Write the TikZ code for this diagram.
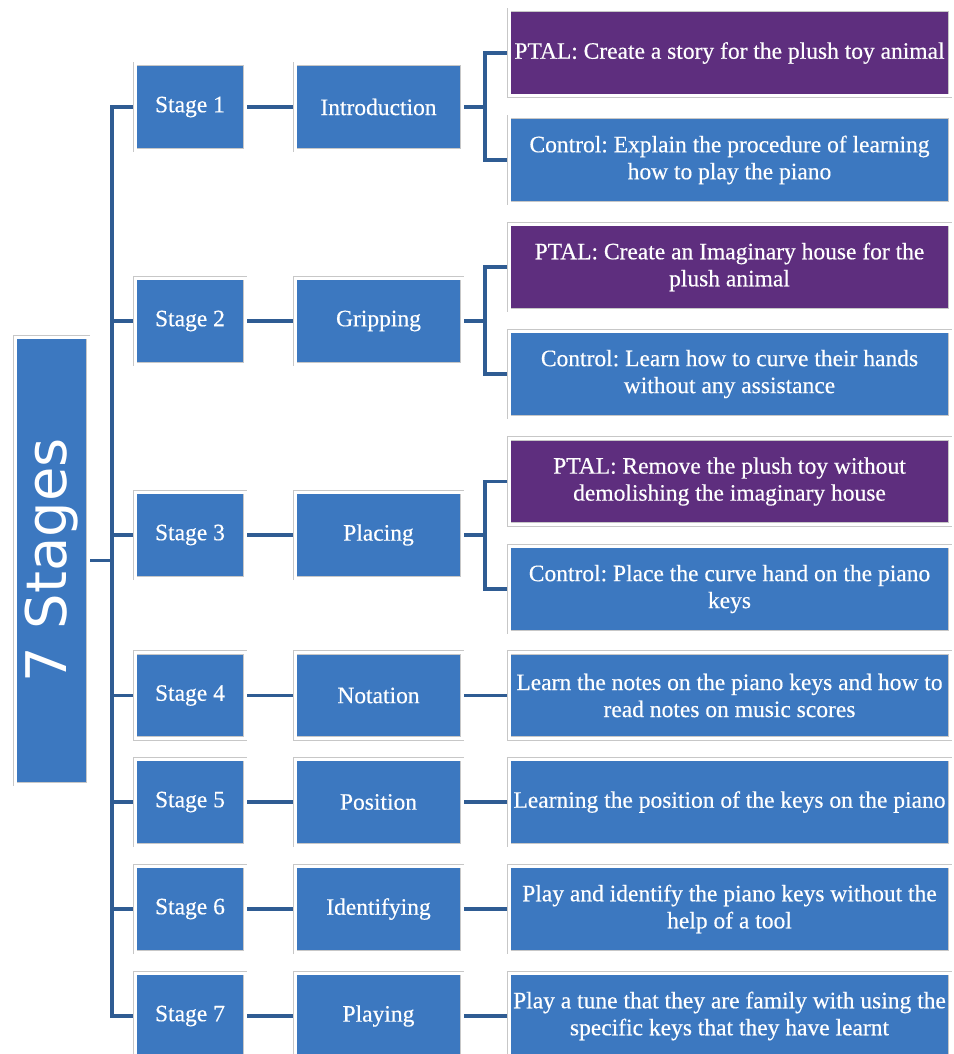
\documentclass[tikz,border=0pt]{standalone}
\usepackage{fontspec}
\setmainfont{Liberation Serif}[FakeBold=0.4]
\newfontfamily\bigsans{DejaVu Sans}
\definecolor{boxblue}{HTML}{3C78C0}
\definecolor{ptalpurple}{HTML}{5E2E7E}
\definecolor{lineblue}{HTML}{2F5C93}
\begin{document}
\frenchspacing
\begin{tikzpicture}[x=1pt,y=-1pt,
  frame/.style={fill=boxblue,draw=black!22,double=white,double distance=3pt,line width=.6pt,
    outer sep=2.1pt,inner sep=2pt,text=white,align=center,font=\fontsize{23.5}{27}\selectfont},
  stagebox/.style={frame,minimum width=110pt,minimum height=86pt},
  topicbox/.style={frame,minimum width=167pt,minimum height=86pt},
  taskbox/.style={frame,minimum width=441pt,minimum height=86pt},
  ptalbox/.style={taskbox,fill=ptalpurple},
  link/.style={draw=lineblue,line width=3.2pt}]
\useasboundingbox (0,0) rectangle (953,1054);
\clip (0,0) rectangle (953,1054);
% root
\node[frame,minimum width=73pt,minimum height=447pt] (big) at (51.5,560.5)
  {\bigsans\fontsize{56}{60}\selectfont\rotatebox{90}{7 Stages}};
% stages
\node[stagebox] (s1) at (190,107) {Stage 1};
\node[stagebox] (s2) at (190,321) {Stage 2};
\node[stagebox] (s3) at (190,535) {Stage 3};
\node[stagebox] (s4) at (190,695.5) {Stage 4};
\node[stagebox] (s5) at (190,802) {Stage 5};
\node[stagebox] (s6) at (190,909) {Stage 6};
\node[stagebox] (s7) at (190,1016) {Stage 7};
% topics
\node[topicbox] (t1) at (378.5,107) {Introduction};
\node[topicbox] (t2) at (378.5,321) {Gripping};
\node[topicbox] (t3) at (378.5,535) {Placing};
\node[topicbox] (t4) at (378.5,695.5) {Notation};
\node[topicbox] (t5) at (378.5,802) {Position};
\node[topicbox] (t6) at (378.5,909) {Identifying};
\node[topicbox] (t7) at (378.5,1016) {Playing};
% tasks
\node[ptalbox] (p1) at (729.5,53) {PTAL: Create a story for the plush toy animal};
\node[taskbox] (c1) at (729.5,160) {Control: Explain the procedure of learning\\how to play the piano};
\node[ptalbox] (p2) at (729.5,267) {PTAL: Create an Imaginary house for the\\plush animal};
\node[taskbox] (c2) at (729.5,374) {Control: Learn how to curve their hands\\without any assistance};
\node[ptalbox] (p3) at (729.5,481.5) {PTAL: Remove the plush toy without\\demolishing the imaginary house};
\node[taskbox] (c3) at (729.5,589) {Control: Place the curve hand on the piano\\keys};
\node[taskbox] (r4) at (729.5,695.5) {Learn the notes on the piano keys and how to\\read notes on music scores};
\node[taskbox] (r5) at (729.5,802) {Learning the position of the keys on the piano};
\node[taskbox] (r6) at (729.5,909) {Play and identify the piano keys without the\\help of a tool};
\node[taskbox] (r7) at (729.5,1016) {Play a tune that they are family with using the\\specific keys that they have learnt};
% connectors
\coordinate (tk) at (112,0);
\coordinate (br) at (485,0);
\draw[link] (big.east) -- (big.east -| tk);
\draw[link] (s1.west) -- (s1.west -| tk) -- (s7.west -| tk) -- (s7.west);
\draw[link] (s2.west -| tk) -- (s2.west);
\draw[link] (s3.west -| tk) -- (s3.west);
\draw[link] (s4.west -| tk) -- (s4.west);
\draw[link] (s5.west -| tk) -- (s5.west);
\draw[link] (s6.west -| tk) -- (s6.west);
\draw[link] (s1) -- (t1);
\draw[link] (s2) -- (t2);
\draw[link] (s3) -- (t3);
\draw[link] (s4) -- (t4);
\draw[link] (s5) -- (t5);
\draw[link] (s6) -- (t6);
\draw[link] (s7) -- (t7);
\draw[link] (t1.east) -- (t1.east -| br);
\draw[link] (p1.west) -- (p1.west -| br) -- (c1.west -| br) -- (c1.west);
\draw[link] (t2.east) -- (t2.east -| br);
\draw[link] (p2.west) -- (p2.west -| br) -- (c2.west -| br) -- (c2.west);
\draw[link] (t3.east) -- (t3.east -| br);
\draw[link] (p3.west) -- (p3.west -| br) -- (c3.west -| br) -- (c3.west);
\draw[link] (t4) -- (r4);
\draw[link] (t5) -- (r5);
\draw[link] (t6) -- (r6);
\draw[link] (t7) -- (r7);
\end{tikzpicture}
\end{document}
